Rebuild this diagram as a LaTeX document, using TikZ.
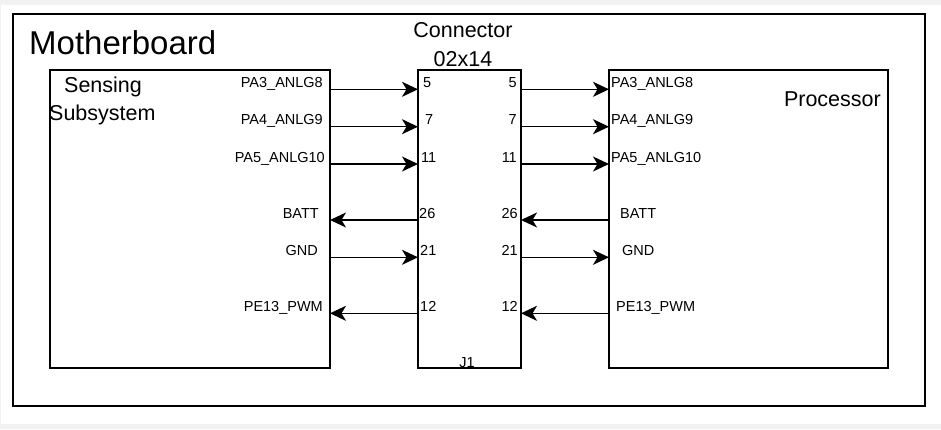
\documentclass[tikz,border=0pt]{standalone}
\usepackage{fontspec}
\setmainfont{Liberation Sans}
\usetikzlibrary{arrows.meta}
\tikzset{
  board/.style={draw, line width=1.5pt, inner sep=0pt, outer sep=0pt, anchor=north west},
  sig/.style={line width=1.5pt, -{Stealth[length=16pt,width=15pt,inset=4.5pt]}},
  pin/.style={inner sep=0pt, font=\fontsize{14.5}{17}\selectfont},
  big/.style={inner sep=0pt, font=\fontsize{21.5}{26}\selectfont},
}
\begin{document}
\begin{tikzpicture}[x=1pt,y=-1pt]
  \fill[black!5] (0,0) rectangle (941,429);
  \fill[white] (1,5) rectangle (941,424);
  \useasboundingbox (0,0) rectangle (941,429);
  % boards
  \path (13,14) node(mb)[board, minimum width=912pt, minimum height=392pt]{}
        (50,70) node(sense)[board, minimum width=280pt, minimum height=298pt]{}
        (418,70) node(conn)[board, minimum width=103pt, minimum height=298pt]{}
        (609,70) node(proc)[board, minimum width=279pt, minimum height=298pt]{};
  % titles
  \node(mbname)[big, font=\fontsize{33}{40}\selectfont, anchor=base west] at (29,54.5) {Motherboard};
  \node(sensename1)[big, anchor=base west] at (64,92.5) {Sensing};
  \node(sensename2)[big, anchor=base west] at (49,120.7) {Subsystem};
  \node(procname)[big, anchor=base east] at (881,106) {Processor};
  \node(connname1)[big, anchor=base] at (463,37.3) {Connector};
  \node(connname2)[big, anchor=base] at (463,66) {02x14};
  \node(connref)[pin, anchor=base] at (467,367) {J1};
  % pin labels
  \foreach \y/\lab/\lx/\rx/\n/\nl/\nr in {
      89.3/PA3\_ANLG8/323/611/5/423/517,
      126.7/PA4\_ANLG9/323/611/7/425/517,
      164/PA5\_ANLG10/325/611/11/421/517,
      220/BATT/319/620/26/419/518,
      257.3/GND/318/622/21/420/518,
      313.3/PE13\_PWM/323/616/12/420/518}{
    \node[pin, anchor=base east] at (\lx,\y-2) {\lab};
    \node[pin, anchor=base west] at (\rx,\y-2) {\lab};
    \node[pin, anchor=base west] at (\nl,\y-2) {\n};
    \node[pin, anchor=base east] at (\nr,\y-2) {\n};
  }
  % signals towards the processor
  \foreach \y in {89.3,126.7,164,257.3}{
    \draw[sig] (sense.east |- 0,\y) -- (conn.west |- 0,\y);
    \draw[sig] (conn.east |- 0,\y) -- (proc.west |- 0,\y);
  }
  % signals towards the sensing subsystem
  \foreach \y in {220,313.3}{
    \draw[sig] (conn.west |- 0,\y) -- (sense.east |- 0,\y);
    \draw[sig] (proc.west |- 0,\y) -- (conn.east |- 0,\y);
  }
\end{tikzpicture}
\end{document}
